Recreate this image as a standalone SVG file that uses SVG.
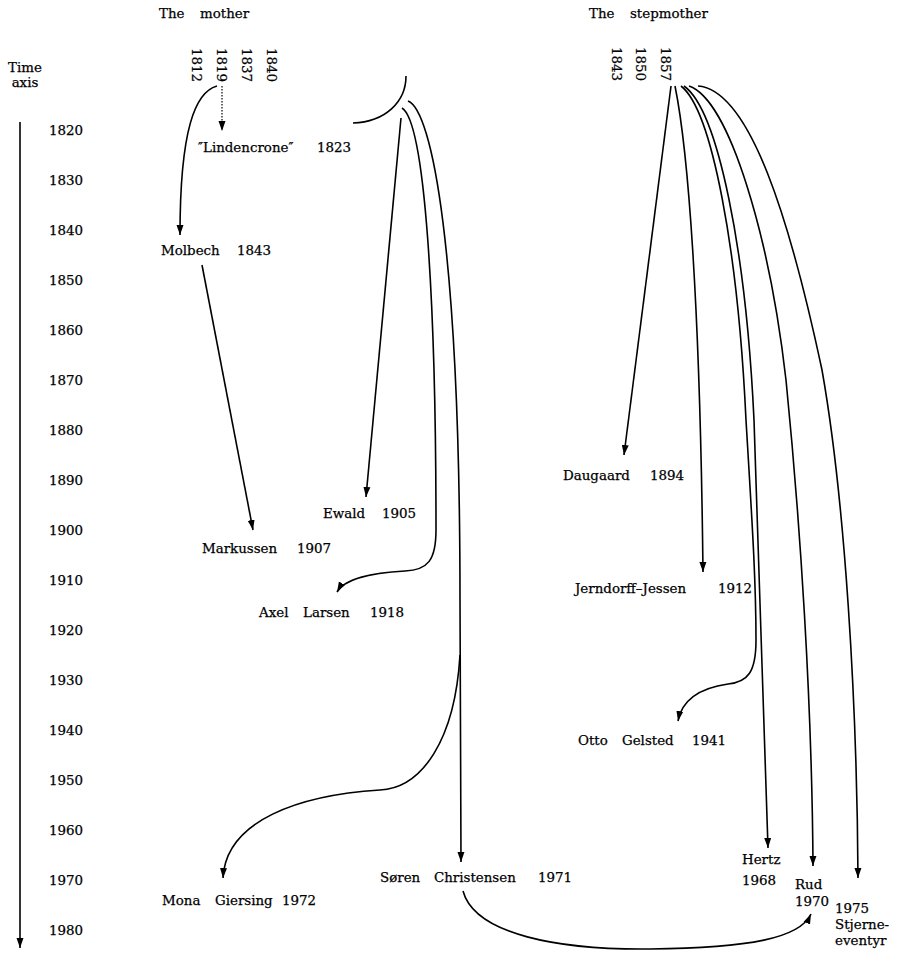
<svg xmlns="http://www.w3.org/2000/svg" width="901" height="954" viewBox="0 0 901 954">
<style>
text{font-family:"DejaVu Serif","Liberation Serif",serif;font-size:13.4px;fill:#000;stroke:#000;stroke-width:0.25}
.c{fill:none;stroke:#000;stroke-width:1.6}
.d{fill:none;stroke:#000;stroke-width:1.2;stroke-dasharray:1.5 1.5}
</style>
<defs>
<marker id="ah" markerUnits="userSpaceOnUse" markerWidth="10" markerHeight="8" refX="10" refY="4" orient="auto">
<path d="M0,0.5 L10,4 L0,7.5 z" fill="#000"/>
</marker>
</defs>
<rect width="901" height="954" fill="#fff"/>

<g id="headers">
<text y="18"><tspan x="159">The</tspan><tspan x="200">mother</tspan></text>
<text y="18"><tspan x="589">The</tspan><tspan x="630">stepmother</tspan></text>
<text x="192" y="48" transform="rotate(90 192 48)">1812</text>
<text x="217" y="48" transform="rotate(90 217 48)">1819</text>
<text x="242" y="48" transform="rotate(90 242 48)">1837</text>
<text x="267" y="48" transform="rotate(90 267 48)">1840</text>
<text x="612" y="47" transform="rotate(90 612 47)">1843</text>
<text x="636" y="47" transform="rotate(90 636 47)">1850</text>
<text x="661" y="47" transform="rotate(90 661 47)">1857</text>
</g>

<g id="time-axis">
<text x="25" y="72" text-anchor="middle">Time</text>
<text x="25" y="87" text-anchor="middle">axis</text>
<line class="c" x1="20" y1="122" x2="20" y2="948" marker-end="url(#ah)"/>
<text x="49" y="135">1820</text>
<text x="49" y="185">1830</text>
<text x="49" y="235">1840</text>
<text x="49" y="285">1850</text>
<text x="49" y="335">1860</text>
<text x="49" y="385">1870</text>
<text x="49" y="435">1880</text>
<text x="49" y="485">1890</text>
<text x="49" y="535">1900</text>
<text x="49" y="585">1910</text>
<text x="49" y="635">1920</text>
<text x="49" y="685">1930</text>
<text x="49" y="735">1940</text>
<text x="49" y="785">1950</text>
<text x="49" y="835">1960</text>
<text x="49" y="885">1970</text>
<text x="49" y="935">1980</text>
</g>

<g id="lindencrone"><text y="152"><tspan x="198">″Lindencrone″</tspan><tspan x="317">1823</tspan></text></g>
<g id="molbech"><text y="255"><tspan x="161">Molbech</tspan><tspan x="237">1843</tspan></text></g>
<g id="markussen"><text y="553"><tspan x="202">Markussen</tspan><tspan x="297">1907</tspan></text></g>
<g id="ewald"><text y="518"><tspan x="323">Ewald</tspan><tspan x="382">1905</tspan></text></g>
<g id="axel-larsen"><text y="617"><tspan x="259">Axel</tspan><tspan x="303">Larsen</tspan><tspan x="370">1918</tspan></text></g>
<g id="mona-giersing"><text y="905"><tspan x="162">Mona</tspan><tspan x="215">Giersing</tspan><tspan x="282">1972</tspan></text></g>
<g id="soren-christensen"><text y="882"><tspan x="380">Søren</tspan><tspan x="434">Christensen</tspan><tspan x="538">1971</tspan></text></g>
<g id="daugaard"><text y="480"><tspan x="563">Daugaard</tspan><tspan x="650">1894</tspan></text></g>
<g id="jerndorff-jessen"><text y="593"><tspan x="575">Jerndorff–Jessen</tspan><tspan x="718">1912</tspan></text></g>
<g id="otto-gelsted"><text y="745"><tspan x="578">Otto</tspan><tspan x="622">Gelsted</tspan><tspan x="692">1941</tspan></text></g>
<g id="hertz"><text x="742" y="864">Hertz</text><text x="742" y="885">1968</text></g>
<g id="rud"><text x="795" y="889">Rud</text><text x="795" y="906">1970</text></g>
<g id="stjerne-eventyr"><text x="835" y="913">1975</text><text x="835" y="929">Stjerne-</text><text x="835" y="945">eventyr</text></g>

<g id="connectors">
<path class="d" d="M222,86 L222,131" marker-end="url(#ah)"/>
<path class="c" d="M217,86 C195,92 180,130 180,235" marker-end="url(#ah)"/>
<path class="c" d="M202,265 L253,530" marker-end="url(#ah)"/>
<path class="c" d="M406,76 C406,102 385,122 353,123"/>
<path class="c" d="M401,118 L366,497" marker-end="url(#ah)"/>
<path class="c" d="M402,108 C425,122 436,300 436,530 C436,560 428,570 405,571 C372,573 345,578 337,592" marker-end="url(#ah)"/>
<path class="c" d="M408,101 C432,110 460,250 460,600 L461,862" marker-end="url(#ah)"/>
<path class="c" d="M460,655 C455,740 422,788 380,790 C300,795 226,820 223,878" marker-end="url(#ah)"/>
<path class="c" d="M463,891 C475,935 560,950 650,949 C750,948 800,938 811,914" marker-end="url(#ah)"/>
<path class="c" d="M671,86 L624,455" marker-end="url(#ah)"/>
<path class="c" d="M675,86 C688,150 700,300 703,572" marker-end="url(#ah)"/>
<path class="c" d="M681,86 C712,110 738,250 746,420 C752,520 756,580 756,640 C756,672 748,682 728,684 C700,688 682,700 678,721" marker-end="url(#ah)"/>
<path class="c" d="M684,86 C718,110 746,250 754,420 L768,848" marker-end="url(#ah)"/>
<path class="c" d="M689,86 C730,100 770,240 786,380 C800,520 812,700 813,866" marker-end="url(#ah)"/>
<path class="c" d="M698,86 C750,90 790,220 822,370 C845,500 857,700 858,878" marker-end="url(#ah)"/>
</g>
</svg>
